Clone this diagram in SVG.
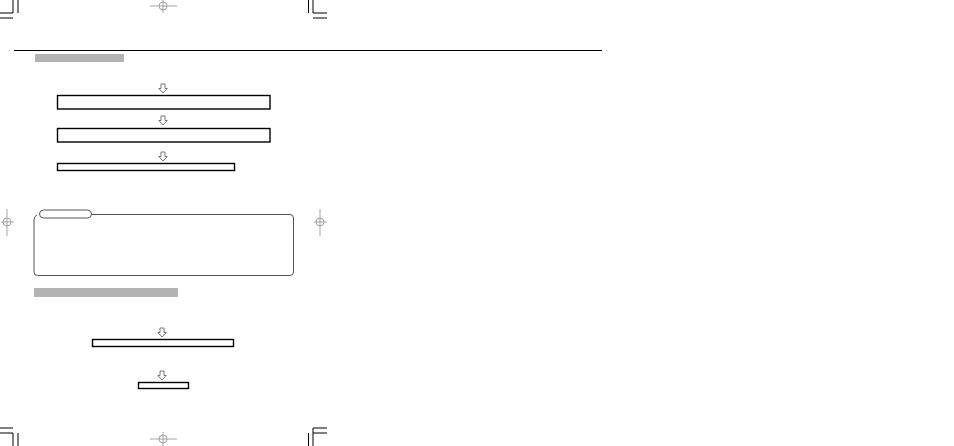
<svg xmlns="http://www.w3.org/2000/svg" xmlns:xlink="http://www.w3.org/1999/xlink" width="954" height="446" viewBox="0 0 954 446">
<style>
.crop{stroke:#000;stroke-width:1;fill:none}
.reg{stroke:#9a9a9a;stroke-width:0.9;fill:none}
.bar{fill:#b3b3b3}
.box{fill:#fff;stroke:#000;stroke-width:1.4}
.note{fill:#fff;stroke:#555;stroke-width:1}
.arr{fill:#fff;stroke:#666;stroke-width:0.9;stroke-linejoin:miter}
</style>
<defs>
<path id="darrow" class="arr" d="M-2,0 V4.5 H-4.2 L0,9 L4.2,4.5 H2 V0 Z"/>
<g id="regH" class="reg">
<line x1="-13" y1="0" x2="14" y2="0"/>
<line x1="0" y1="-7" x2="0" y2="7"/>
<circle cx="0" cy="0" r="4"/>
</g>
<g id="regV" class="reg">
<line x1="-6" y1="0" x2="7" y2="0"/>
<line x1="0" y1="-13" x2="0" y2="14"/>
<circle cx="0" cy="0" r="4"/>
</g>
</defs>
<rect width="954" height="446" fill="#fff"/>
<g id="cropmarks">
<path class="crop" d="M13,0 V13 H0 M18,0 V13 M0,18 H13"/>
<path class="crop" d="M313,0 V13 H327 M308.5,0 V13 M313,18 H327"/>
<path class="crop" d="M0,428 H13 M0,433 H13 V446 M18,433 V446"/>
<path class="crop" d="M313,446 V428 H327 M308.5,433 V446 M313,433 H327"/>
<use xlink:href="#regH" x="163" y="6"/>
<use xlink:href="#regH" x="163" y="439"/>
<use xlink:href="#regV" x="7" y="222"/>
<use xlink:href="#regV" x="320" y="222"/>
</g>
<line x1="14" y1="50.5" x2="602" y2="50.5" stroke="#000" stroke-width="1"/>
<rect id="heading1" class="bar" x="35" y="54" width="89" height="8"/>
<rect id="heading2" class="bar" x="34" y="288" width="144" height="9"/>
<g id="connectors">
<use xlink:href="#darrow" x="163" y="84"/>
<use xlink:href="#darrow" x="163" y="116"/>
<use xlink:href="#darrow" x="163" y="152"/>
<use xlink:href="#darrow" x="162" y="328"/>
<use xlink:href="#darrow" x="162" y="371"/>
</g>
<g id="box1"><rect class="box" x="57.5" y="95.5" width="212.5" height="13.5"/></g>
<g id="box2"><rect class="box" x="57.5" y="128.5" width="212.5" height="13.5"/></g>
<g id="box3"><rect class="box" x="57.5" y="163.5" width="177" height="7"/></g>
<g id="notebox">
<path class="note" d="M39,214.5 H290 Q293.5,214.5 293.5,218 V272 Q293.5,275.5 290,275.5 H37.5 Q34,275.5 34,272 V220 Q34,216 37,215"/>
<rect class="note" x="39.5" y="210" width="52" height="8" rx="4" ry="4"/>
</g>
<g id="box4"><rect class="box" x="92.5" y="339.5" width="141" height="7"/></g>
<g id="box5"><rect class="box" x="138.5" y="382.5" width="50" height="6"/></g>
</svg>
